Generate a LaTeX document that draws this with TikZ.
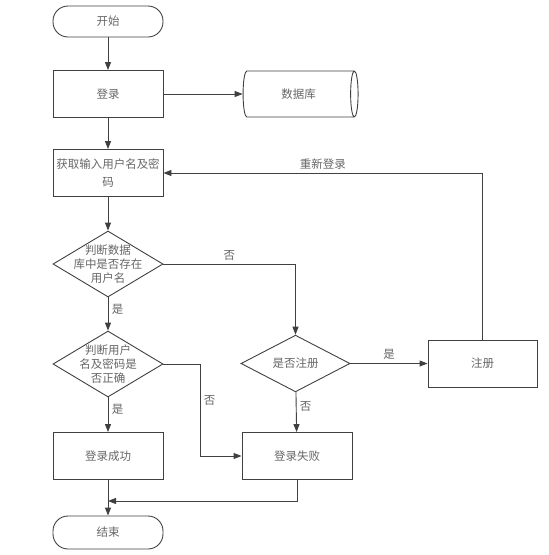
\documentclass[tikz,border=0pt]{standalone}
\usepackage{fontspec}
\newfontfamily\cjk{Noto Sans CJK SC}
\usetikzlibrary{shapes.geometric,arrows.meta}

\begin{document}
\begin{tikzpicture}[x=1pt,y=-1pt,
  >={Triangle[length=8pt,width=6pt]},
  every node/.style={font=\cjk\fontsize{11.5}{14}\selectfont, text=black!60},
  line/.style={draw=black!75,line width=0.9pt},
  box/.style={draw=black!75,line width=0.9pt,minimum width=110pt,minimum height=47pt,inner sep=0pt,align=center},
  term/.style={box,rounded corners=15pt,minimum height=31pt},
  cond/.style={draw=black!75,line width=0.9pt,diamond,minimum width=110pt,minimum height=66pt,inner sep=0pt},
  lbl/.style={align=center,inner sep=0pt},
  db/.style={draw=black!75,line width=0.9pt,cylinder,aspect=0.7,minimum width=46pt,minimum height=115pt,inner sep=0pt}]
\useasboundingbox (0,0) rectangle (549,555);

\node[term] (start) at (108,21.5) {开始};
\node[box] (login) at (108,94) {登录};
\node[db] (data) at (298.5,94) {数据库};
\node[box] (input) at (108,173) {获取输入用户名及密\\[4pt]码};
\node[cond,label={[lbl]center:{判断数据\\库中是否存在\\用户名}}] (exist) at (108,264) {};
\node[cond,label={[lbl]center:{判断用户\\名及密码是\\否正确}}] (right) at (108,364) {};
\node[cond,minimum width=109pt,minimum height=45pt] (regq) at (295.5,363.5) {是否注册};
\node[box,minimum width=109pt] (reg) at (482.5,363.5) {注册};
\node[box] (ok) at (108,456) {登录成功};
\node[box] (fail) at (297,456) {登录失败};
\node[term,minimum height=33pt] (end) at (108,532.5) {结束};
\coordinate (join) at (108,501);

\path[line,->] (start) -- (login);
\path[line,->] (login) -- (data);
\path[line,->] (login) -- (input);
\path[line,->] (input) -- (exist);
\path[line,->] (exist) -- node[right,pos=0.35] {是} (right);
\path[line,->] (exist.east) -| node[above,pos=0.25] {否} (regq.north);
\path[line,->] (right) -- node[right,pos=0.35] {是} (ok);
\path[line,->] (right.east) -- (200,364) |- node[right,pos=0.2] {否} (fail.west);
\path[line,->] (regq) -- node[above] {是} (reg);
\path[line,->] (regq) -- node[right,pos=0.35] {否} (fail);
\path[line,->] (reg.north) |- node[above,pos=0.75] {重新登录} (input.east);
\path[line,->] (ok) -- (end);
\path[line,->] (fail.south) |- (join);
\end{tikzpicture}
\end{document}
